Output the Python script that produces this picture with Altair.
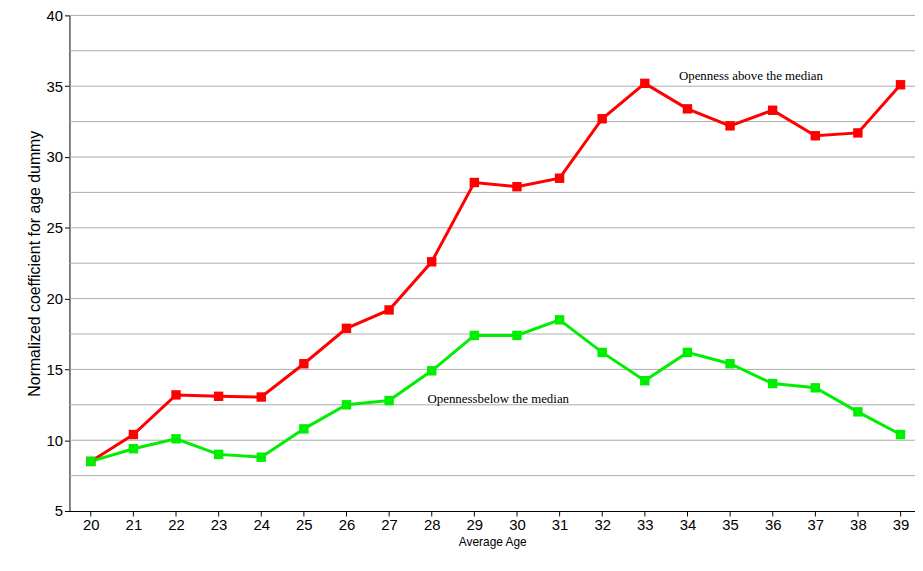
import altair as alt
import pandas as pd

ages = list(range(20, 40))
above = [8.5, 10.4, 13.2, 13.1, 13.05, 15.4, 17.9, 19.2, 22.6, 28.2, 27.9, 28.5, 32.7, 35.2, 33.4, 32.2, 33.3, 31.5, 31.7, 35.1]
below = [8.5, 9.4, 10.1, 9.0, 8.8, 10.8, 12.5, 12.8, 14.9, 17.4, 17.4, 18.5, 16.2, 14.2, 16.2, 15.4, 14.0, 13.7, 12.0, 10.4]
labels = ["Openness above the median", "Opennessbelow the median"]
label_x = [33.8, 27.9]
label_y = [35.7, 12.9]
grid_vals = [7.5, 10, 12.5, 15, 17.5, 20, 22.5, 25, 27.5, 30, 32.5, 35, 37.5, 40]

df = pd.DataFrame({"age": ages * 2, "v": above + below,
                   "s": ["above"] * 20 + ["below"] * 20})
lab = pd.DataFrame({"x": label_x, "y": label_y, "t": labels})
gdf = pd.DataFrame({"g": grid_vals})

X = alt.X("age:Q", scale=alt.Scale(domain=[19.5, 39.34], nice=False, zero=False),
          axis=alt.Axis(values=ages, title="Average Age", grid=False, labelFontSize=15,
                        titleFontSize=12, titleFontWeight="normal", domainColor="black",
                        tickColor="black", labelColor="black", titleColor="black",
                        labelFont="Liberation Sans", titleFont="Liberation Sans"))
Y = alt.Y("v:Q", scale=alt.Scale(domain=[5, 40], nice=False, zero=False),
          axis=alt.Axis(values=[5] + grid_vals, grid=False,
                        labelExpr="datum.value % 5 == 0 ? datum.label : ''",
                        title="Normalized coefficient for age dummy",
                        labelFontSize=15, titleFontSize=16, titleFontWeight="normal",
                        domainColor="black", tickColor="black", labelColor="black", titleColor="black",
                        labelFont="Liberation Sans", titleFont="Liberation Sans"))
col = alt.Color("s:N", scale=alt.Scale(domain=["above", "below"], range=["#ff0000", "#00ee00"]), legend=None)

grid = alt.Chart(gdf).mark_rule(color="#aaaaaa", strokeWidth=1).encode(y=alt.Y("g:Q"))
base = alt.Chart(df).encode(x=X, y=Y, color=col)
lines = base.mark_line(strokeWidth=3)
pts = base.mark_square(size=90, opacity=1)
txt = alt.Chart(lab).mark_text(font="Liberation Serif", fontSize=13, color="black", align="left").encode(
    x=alt.X("x:Q"), y=alt.Y("y:Q"), text="t:N")

chart = (grid + lines + pts + txt).properties(
    width=853, height=500, autosize=alt.AutoSizeParams(type="none"),
    padding={"left": 62, "top": 5, "right": 0, "bottom": 50}
).configure_view(stroke=None)
chart.save("out.html", embed_options={"renderer": "svg", "actions": False})
